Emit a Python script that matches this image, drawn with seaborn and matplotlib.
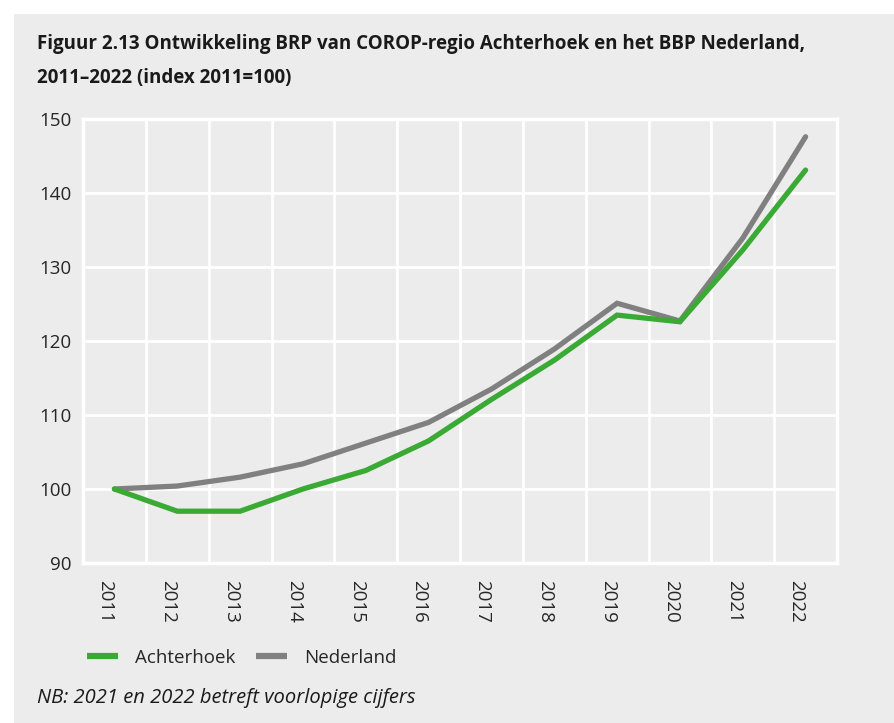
import numpy as np
import pandas as pd
import matplotlib
matplotlib.use("Agg")
import matplotlib.pyplot as plt
import matplotlib.transforms as mtransforms
from matplotlib.patches import Rectangle
import seaborn as sns

# ── data ────────────────────────────────────────────────────
years       = [2011, 2012, 2013, 2014, 2015, 2016, 2017, 2018, 2019, 2020, 2021, 2022]
achterhoek  = [100.0, 97.0, 97.0, 100.0, 102.5, 106.5, 112.1, 117.4, 123.5, 122.6, 132.3, 143.1]
nederland   = [100.0, 100.4, 101.6, 103.4, 106.2, 109.0, 113.5, 118.9, 125.1, 122.7, 133.9, 147.6]
series      = ["Achterhoek", "Nederland"]
y_ticks     = [90, 100, 110, 120, 130, 140, 150]

title = ("Figuur 2.13 Ontwikkeling BRP van COROP-regio Achterhoek en het BBP Nederland,\n"
         "2011\u20132022 (index 2011=100)")
note  = "NB: 2021 en 2022 betreft voorlopige cijfers"

GREEN = "#3aaa35"
GREY  = "#808080"
BG    = "#ececec"

df = pd.DataFrame({"jaar": years * 2,
                   "index": achterhoek + nederland,
                   "reeks": [series[0]] * len(years) + [series[1]] * len(years)})

sns.set_style("white", {"axes.facecolor": BG})
plt.rcParams["font.family"] = ["Open Sans", "DejaVu Sans"]

fig = plt.figure(figsize=(8.95, 7.23), dpi=100)
fig.patch.set_facecolor("white")
fig.patches.append(Rectangle((14 / 895, 0), 1, 1 - 14 / 723, transform=fig.transFigure,
                             facecolor=BG, edgecolor="none", zorder=-10))

ax = fig.add_axes([83 / 895, 1 - 563 / 723, (837 - 83) / 895, (563 - 119) / 723])
sns.lineplot(data=df, x="jaar", y="index", hue="reeks", hue_order=series,
             palette=[GREEN, GREY], linewidth=3.8, ax=ax, legend=False,
             solid_capstyle="round", solid_joinstyle="miter")
# grey line drawn under green where they meet
for ln in ax.lines:
    ln.set_zorder(2 if ln.get_color() == GREY else 3)

ax.set_xlim(years[0] - 0.5, years[-1] + 0.5)
ax.set_ylim(y_ticks[0], y_ticks[-1])
ax.set_yticks(y_ticks)
ax.set_xticks(years)
ax.set_xticklabels([str(y) for y in years], rotation=-90, fontsize=13.5)
ax.set_xticks(np.arange(years[0] + 0.5, years[-1], 1.0), minor=True)
ax.tick_params(axis="y", labelsize=13.5, length=0, pad=8)
ax.tick_params(axis="x", which="both", length=0, pad=12)
ax.set_xlabel("")
ax.set_ylabel("")

ax.grid(False)
ax.grid(True, axis="y", which="major", color="white", linewidth=2)
ax.grid(True, axis="x", which="minor", color="white", linewidth=2)
ax.set_axisbelow(True)
for s in ax.spines.values():
    s.set_visible(True)
    s.set_color("white")
    s.set_linewidth(2.5)

# rotated year labels sit a bit left of the category centre
shift = mtransforms.ScaledTranslation(-9 / 100, 0, fig.dpi_scale_trans)
for lab in ax.get_xticklabels():
    lab.set_transform(lab.get_transform() + shift)

fig.text(37 / 895, 1 - 34 / 723, title, ha="left", va="top", fontsize=13.5,
         fontweight="bold", linespacing=1.95, color="#1a1a1a")

handles = [plt.Line2D([], [], color=c, linewidth=4.5, solid_capstyle="butt")
           for c in (GREEN, GREY)]
fig.legend(handles, series, loc="center left", bbox_to_anchor=(87 / 895, 1 - 658 / 723),
           ncol=2, frameon=False, fontsize=13.5, handlelength=1.65, handletextpad=0.9,
           columnspacing=1.1, borderpad=0, borderaxespad=0)

fig.text(37 / 895, 1 - 698 / 723, note, ha="left", va="center", fontsize=14.5,
         style="italic", color="#1a1a1a")

fig.savefig("out.png", dpi=100)
